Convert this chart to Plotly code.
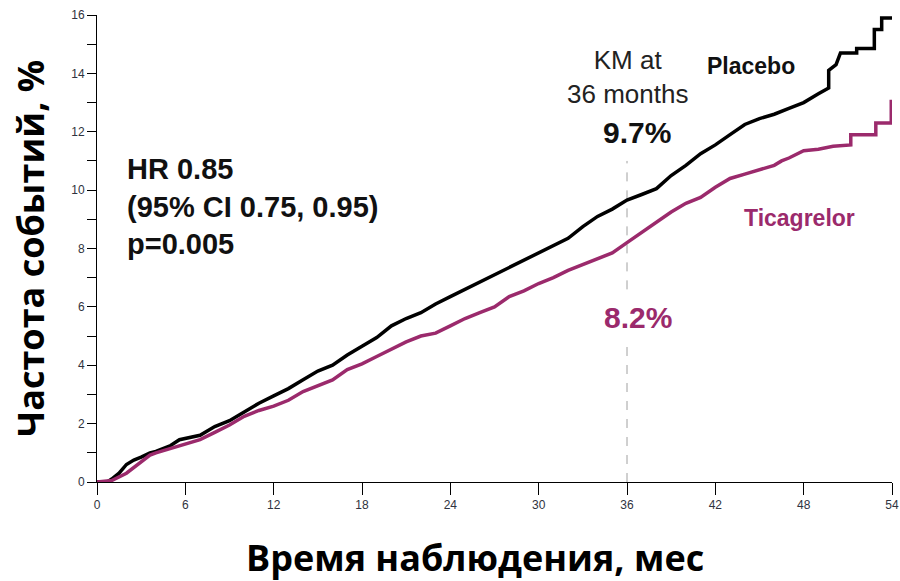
import plotly.graph_objects as go

# Kaplan-Meier cumulative event rate (%) by follow-up month
placebo_month = [0, 0.7, 1, 1.5, 2, 2.5, 3, 3.6, 4, 5, 5.6, 6, 7, 8, 9, 10, 11, 12, 13, 14,
                 15, 16, 17, 18, 19, 20, 21, 22, 23, 24, 25, 26, 27, 28, 29, 30, 31, 32, 33,
                 34, 35, 36, 37, 38, 39, 40, 41, 42, 43, 44, 45, 46, 47, 48, 49, 49.7, 49.7,
                 50.2, 50.5, 51.6, 51.6, 52.8, 52.8, 53.3, 53.3, 54]
placebo_rate = [0, 0.0, 0.1, 0.3, 0.6, 0.75, 0.85, 1.0, 1.05, 1.25, 1.45, 1.5, 1.6, 1.9, 2.1,
                2.4, 2.7, 2.95, 3.2, 3.5, 3.8, 4.0, 4.35, 4.65, 4.95, 5.35, 5.6, 5.8, 6.1, 6.35,
                6.6, 6.85, 7.1, 7.35, 7.6, 7.85, 8.1, 8.35, 8.75, 9.1, 9.35, 9.66, 9.85, 10.05,
                10.5, 10.85, 11.25, 11.55, 11.9, 12.25, 12.45, 12.6, 12.8, 13.0, 13.3, 13.5,
                14.1, 14.3, 14.7, 14.7, 14.85, 14.85, 15.5, 15.5, 15.9, 15.9]

ticagrelor_month = [0, 1, 2, 3, 3.6, 4, 5, 6, 7, 8, 9, 10, 11, 12, 13, 14, 15, 16, 17, 18, 19,
                    20, 21, 22, 23, 24, 25, 26, 27, 28, 29, 30, 31, 32, 33, 34, 35, 36, 37, 38,
                    39, 40, 41, 42, 43, 44, 45, 46, 46.5, 47, 48, 49, 50, 51.2, 51.2, 52.9,
                    52.9, 53.95, 53.95]
ticagrelor_rate = [0, 0.05, 0.3, 0.7, 0.92, 1.0, 1.15, 1.3, 1.45, 1.7, 1.95, 2.25, 2.45, 2.6,
                   2.8, 3.1, 3.3, 3.5, 3.85, 4.05, 4.3, 4.55, 4.8, 5.0, 5.1, 5.35, 5.6, 5.8,
                   6.0, 6.35, 6.55, 6.8, 7.0, 7.25, 7.45, 7.65, 7.85, 8.2, 8.55, 8.9, 9.25,
                   9.55, 9.75, 10.1, 10.4, 10.55, 10.7, 10.85, 11.0, 11.1, 11.35, 11.4, 11.5,
                   11.55, 11.9, 11.9, 12.3, 12.3, 13.1]

x_ticks = [0, 6, 12, 18, 24, 30, 36, 42, 48, 54]
y_ticks = [0, 2, 4, 6, 8, 10, 12, 14, 16]

landmark_month = 36
km_placebo = "9.7%"
km_ticagrelor = "8.2%"

BLACK = "#000000"
MAGENTA = "#9b2a6c"
TICK_FONT = dict(family="Liberation Sans, Arial, sans-serif", size=12, color="#2f3340")
TITLE_FONT = "Open Sans, Noto Sans, sans-serif"
LABEL_FONT = "Liberation Sans, Arial, sans-serif"

fig = go.Figure()

fig.add_trace(go.Scatter(x=placebo_month, y=placebo_rate, mode="lines",
                         line=dict(color=BLACK, width=3.5), showlegend=False))
fig.add_trace(go.Scatter(x=ticagrelor_month, y=ticagrelor_rate, mode="lines",
                         line=dict(color=MAGENTA, width=3.5), showlegend=False))

# dashed landmark line at 36 months, broken around the ticagrelor label
for y0, y1 in [(0, 4.7), (6.6, 11.0)]:
    fig.add_shape(type="line", xref="x", yref="y", x0=landmark_month, x1=landmark_month,
                  y0=y0, y1=y1, line=dict(color="#a0a0a0", width=1, dash="dash"), layer="below")

annotations = [
    dict(x=1.9, y=11.35, xanchor="left", yanchor="top", align="left",
         text="<b>HR 0.85<br>(95% CI 0.75, 0.95)<br>p=0.005</b>",
         font=dict(family=LABEL_FONT, size=29, color="#111111")),
    dict(x=36.0, y=13.87, xanchor="center", yanchor="middle", align="center",
         text="KM at<br>36 months",
         font=dict(family=LABEL_FONT, size=26, color="#222222")),
    dict(x=36.7, y=11.96, xanchor="center", yanchor="middle",
         text=f"<b>{km_placebo}</b>", font=dict(family=LABEL_FONT, size=30, color="#111111")),
    dict(x=36.75, y=5.62, xanchor="center", yanchor="middle",
         text=f"<b>{km_ticagrelor}</b>", font=dict(family=LABEL_FONT, size=30, color=MAGENTA)),
    dict(x=44.4, y=14.25, xanchor="center", yanchor="middle",
         text="<b>Placebo</b>", font=dict(family=LABEL_FONT, size=23, color="#111111")),
    dict(x=47.7, y=9.04, xanchor="center", yanchor="middle",
         text="<b>Ticagrelor</b>", font=dict(family=LABEL_FONT, size=23, color=MAGENTA)),
]
for a in annotations:
    a.update(xref="x", yref="y", showarrow=False)
    fig.add_annotation(**a)

# axis titles
fig.add_annotation(xref="paper", yref="paper", x=-0.0843, y=0.501, showarrow=False,
                   textangle=-90, xanchor="center", yanchor="middle",
                   text="<b>Частота событий, %</b>",
                   font=dict(family=TITLE_FONT, size=36, color="#000000"))
fig.add_annotation(xref="paper", yref="paper", x=0.4755, y=-0.1627, showarrow=False,
                   xanchor="center", yanchor="middle",
                   text="<b>Время наблюдения, мес</b>",
                   font=dict(family=TITLE_FONT, size=36, color="#000000"))

fig.update_xaxes(range=[0, 54], tickvals=x_ticks, ticktext=[str(v) for v in x_ticks],
                 showgrid=False, zeroline=False, showline=True, linecolor="#000000",
                 linewidth=1, ticks="outside", ticklen=12, tickcolor="#000000",
                 tickfont=TICK_FONT, automargin=False)
fig.update_yaxes(range=[0, 16], tickvals=y_ticks, ticktext=[str(v) for v in y_ticks],
                 showgrid=False, zeroline=False, showline=True, linecolor="#000000",
                 linewidth=1, ticks="outside", ticklen=9, tickcolor="#000000",
                 tickfont=TICK_FONT, automargin=False,
                 minor=dict(dtick=1, ticks="outside", ticklen=9, tickcolor="#000000",
                            showgrid=False))

fig.update_layout(width=900, height=581, margin=dict(l=97, r=8, t=15, b=99, autoexpand=False),
                  plot_bgcolor="white", paper_bgcolor="white")

fig.write_html("out.html")
